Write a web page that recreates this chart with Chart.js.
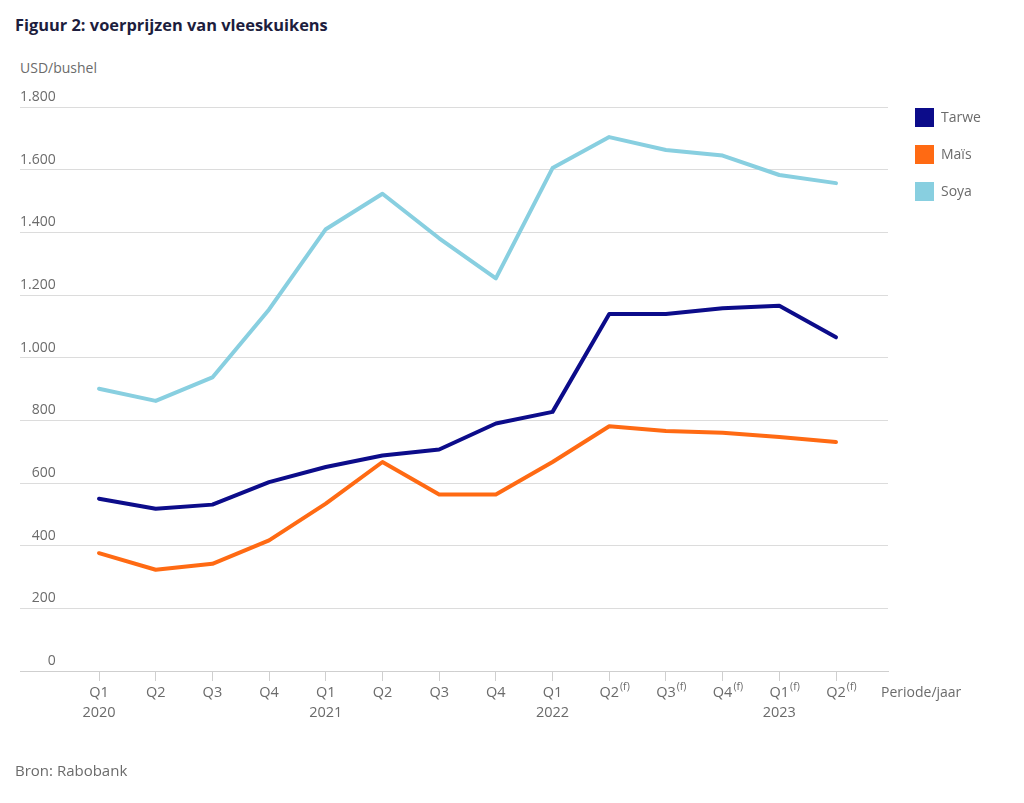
<!DOCTYPE html>
<html>
<head>
<meta charset="utf-8">
<script src="https://cdn.jsdelivr.net/npm/chart.js@4"></script>
<style>
  body { margin: 0; background: #fff; }
  #wrap { position: relative; width: 1024px; height: 803px; font-family: "Open Sans", sans-serif; color: #6b6b6b; }
  #chart { position: absolute; left: 0; top: 0; }
  .title { position: absolute; left: 15px; top: 13px; font-size: 16.4px; font-weight: bold; color: #1d1d3d; }
  .unit { position: absolute; left: 20px; top: 58px; font-size: 14px; }
  .xtitle { position: absolute; left: 881px; top: 682px; font-size: 14px; }
  .source { position: absolute; left: 15px; top: 760px; font-size: 15px; }
  #legend { position: absolute; left: 915px; top: 108px; }
  .item { position: relative; height: 19px; margin-bottom: 18px; font-size: 14px; line-height: 18px; }
  .item span { display: inline-block; width: 19px; height: 19px; vertical-align: top; margin-right: 7px; }
</style>
</head>
<body>
<div id="wrap">
  <div class="title">Figuur 2: voerprijzen van vleeskuikens</div>
  <div class="unit">USD/bushel</div>
  <canvas id="chart" width="1024" height="803"></canvas>
  <div id="legend"></div>
  <div class="xtitle">Periode/jaar</div>
  <div class="source">Bron: Rabobank</div>
</div>
<script>
// Data
const quarters = ['Q1', 'Q2', 'Q3', 'Q4', 'Q1', 'Q2', 'Q3', 'Q4', 'Q1', 'Q2', 'Q3', 'Q4', 'Q1', 'Q2'];
const years = ['2020', '', '', '', '2021', '', '', '', '2022', '', '', '', '2023', ''];
const forecast = [false, false, false, false, false, false, false, false, false, true, true, true, true, true];
const tarwe = [550, 518, 531, 603, 651, 688, 707, 790, 827, 1139, 1139, 1158, 1166, 1065];
const mais = [376, 323, 342, 417, 534, 667, 563, 563, 667, 781, 766, 760, 747, 731];
const soya = [901, 862, 937, 1154, 1410, 1523, 1381, 1253, 1605, 1704, 1663, 1645, 1583, 1557];
const yTicks = [0, 200, 400, 600, 800, 1000, 1200, 1400, 1600, 1800];

const seriesNames = ['Tarwe', 'Maïs', 'Soya'];
const seriesColors = ['#0c0c8a', '#ff6a13', '#88cfe0'];
const seriesValues = [tarwe, mais, soya];

const font = '"Open Sans", sans-serif';

// x tick labels with the (f) superscript and year line
const xLabels = {
    id: 'xLabels',
    afterDraw(chart) {
        const ctx = chart.ctx;
        const x = chart.scales.x;
        ctx.save();
        ctx.fillStyle = '#6b6b6b';
        ctx.textBaseline = 'middle';
        quarters.forEach((q, i) => {
            const px = x.getPixelForValue(i);
            ctx.font = '14.5px ' + font;
            ctx.textAlign = 'center';
            ctx.fillText(q, px, x.top + 22);
            if (years[i]) {
                ctx.fillText(years[i], px, x.top + 42);
            }
            if (forecast[i]) {
                const w = ctx.measureText(q).width;
                ctx.font = '10.5px ' + font;
                ctx.textAlign = 'left';
                ctx.fillText('(f)', px + w / 2 + 1, x.top + 16);
            }
        });
        ctx.restore();
    }
};

// legend
const legend = document.getElementById('legend');
seriesNames.forEach((name, i) => {
    const item = document.createElement('div');
    item.className = 'item';
    item.innerHTML = '<span style="background:' + seriesColors[i] + '"></span>' + name;
    legend.appendChild(item);
});

const ctx = document.getElementById('chart').getContext('2d');
const chart = new Chart(ctx, {
    type: 'line',
    data: {
        datasets: seriesNames.map((name, i) => ({
            label: name,
            data: seriesValues[i].map((v, j) => ({ x: j, y: v })),
            borderColor: seriesColors[i],
            borderWidth: 4,
            pointRadius: 0,
            tension: 0,
            borderJoinStyle: 'round',
            borderCapStyle: 'round'
        }))
    },
    options: {
        responsive: false,
        animation: false,
        layout: {
            padding: { left: 20, right: 136, top: 107, bottom: 122 }
        },
        plugins: {
            legend: { display: false },
            tooltip: { enabled: false }
        },
        scales: {
            x: {
                type: 'linear',
                min: -1.3935,
                max: 13.917,
                afterBuildTicks: (scale) => {
                    scale.ticks = quarters.map((q, i) => ({ value: i }));
                },
                grid: {
                    drawOnChartArea: false,
                    drawTicks: true,
                    tickLength: 10,
                    color: '#cfcfcf'
                },
                border: { display: true, color: '#cfcfcf' },
                ticks: { display: false }
            },
            y: {
                min: 0,
                max: 1800,
                afterBuildTicks: (scale) => {
                    scale.ticks = yTicks.map(v => ({ value: v }));
                },
                grid: {
                    drawTicks: false,
                    color: '#dcdcdc'
                },
                border: { display: false },
                ticks: {
                    mirror: true,
                    crossAlign: 'far',
                    padding: 0,
                    labelOffset: -10,
                    color: '#6b6b6b',
                    font: { family: font, size: 14 },
                    callback: (v) => String(v).replace(/\B(?=(\d{3})+(?!\d))/g, '.')
                }
            }
        }
    },
    plugins: [xLabels]
});
</script>
</body>
</html>
